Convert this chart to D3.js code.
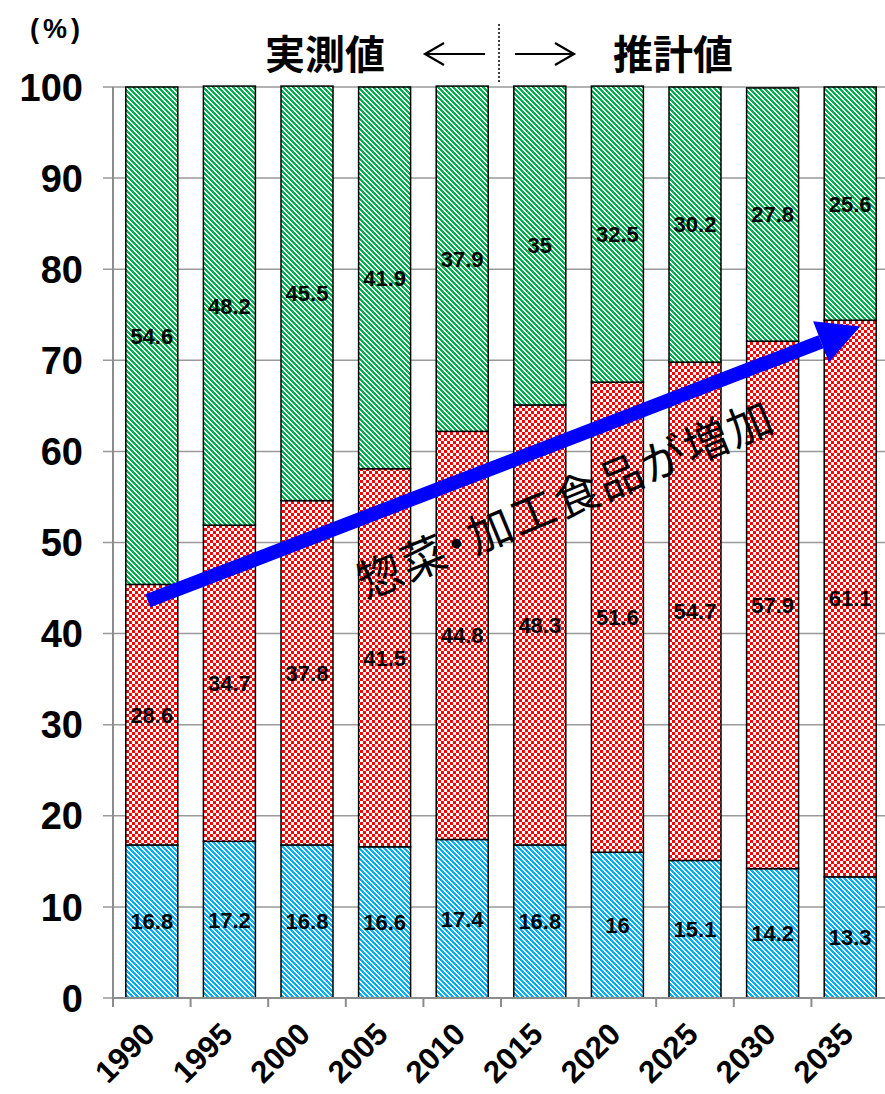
<!DOCTYPE html>
<html>
<head>
<meta charset="utf-8">
<script src="https://cdn.jsdelivr.net/npm/d3@7"></script>
<style>
  body { margin: 0; background: #fff; }
  text { font-family: "Liberation Sans", Arial, sans-serif; }
  .jp { font-family: "Noto Sans CJK JP", sans-serif; }
</style>
</head>
<body>
<svg id="chart" width="885" height="1094"></svg>
<script>
// data
const years = ["1990", "1995", "2000", "2005", "2010", "2015", "2020", "2025", "2030", "2035"];
const eatOut    = [16.8, 17.2, 16.8, 16.6, 17.4, 16.8, 16, 15.1, 14.2, 13.3];   // blue, bottom
const processed = [28.6, 34.7, 37.8, 41.5, 44.8, 48.3, 51.6, 54.7, 57.9, 61.1]; // red, middle
const fresh     = [54.6, 48.2, 45.5, 41.9, 37.9, 35, 32.5, 30.2, 27.8, 25.6];   // green, top
const yTicks = [0, 10, 20, 30, 40, 50, 60, 70, 80, 90, 100];
const keys = ["eatOut", "processed", "fresh"];

const svg = d3.select("#chart");
const width = +svg.attr("width");

const plotLeft = 113, plotRight = 889, plotTop = 87, plotBottom = 998;

const x = d3.scaleBand()
    .domain(years)
    .range([plotLeft, plotRight])
    .paddingInner(0.33)
    .paddingOuter(0.165);

const y = d3.scaleLinear().domain([0, 100]).range([plotBottom, plotTop]);

// patterns
const defs = svg.append("defs");

function diagPattern(id, color) {
    const p = defs.append("pattern")
        .attr("id", id)
        .attr("patternUnits", "userSpaceOnUse")
        .attr("width", 5).attr("height", 5);
    p.append("rect").attr("width", 5).attr("height", 5).attr("fill", "#fff");
    for (let r = 0; r < 5; r++) {
        for (let k = 0; k < 3; k++) {
            p.append("rect")
                .attr("x", (r + k) % 5).attr("y", r)
                .attr("width", 1).attr("height", 1)
                .attr("fill", color)
                .attr("shape-rendering", "crispEdges");
        }
    }
}
diagPattern("pGreen", "#00b050");
diagPattern("pBlue", "#00b0f0");

const chk = defs.append("pattern")
    .attr("id", "pRed")
    .attr("patternUnits", "userSpaceOnUse")
    .attr("width", 6).attr("height", 6);
chk.append("rect").attr("width", 6).attr("height", 6).attr("fill", "#fff");
chk.append("rect").attr("width", 3).attr("height", 3).attr("fill", "#ff0000").attr("shape-rendering", "crispEdges");
chk.append("rect").attr("x", 3).attr("y", 3).attr("width", 3).attr("height", 3).attr("fill", "#ff0000").attr("shape-rendering", "crispEdges");

const fills = { eatOut: "url(#pBlue)", processed: "url(#pRed)", fresh: "url(#pGreen)" };

// gridlines
svg.append("g")
    .selectAll("line")
    .data(yTicks)
    .enter().append("line")
    .attr("x1", plotLeft - 10)
    .attr("x2", width)
    .attr("y1", d => y(d))
    .attr("y2", d => y(d))
    .attr("stroke", "#999")
    .attr("stroke-width", 1.5);

// y labels
svg.append("g")
    .selectAll("text")
    .data(yTicks)
    .enter().append("text")
    .attr("x", 83)
    .attr("y", d => y(d))
    .attr("dy", "0.36em")
    .attr("text-anchor", "end")
    .style("font-size", "38px")
    .style("font-weight", "bold")
    .text(d => d);

// axes lines
svg.append("line")
    .attr("x1", plotLeft).attr("x2", plotLeft)
    .attr("y1", plotTop).attr("y2", plotBottom + 9)
    .attr("stroke", "#8c8c8c").attr("stroke-width", 2);

svg.append("g")
    .selectAll("line")
    .data(d3.range(1, years.length))
    .enter().append("line")
    .attr("x1", i => plotLeft + i * x.step())
    .attr("x2", i => plotLeft + i * x.step())
    .attr("y1", plotBottom).attr("y2", plotBottom + 9)
    .attr("stroke", "#8c8c8c").attr("stroke-width", 2);

// stacked bars
const table = years.map((yr, i) => ({ year: yr, eatOut: eatOut[i], processed: processed[i], fresh: fresh[i] }));
const series = d3.stack().keys(keys)(table);

const groups = svg.append("g")
    .selectAll("g")
    .data(series)
    .enter().append("g")
    .attr("fill", d => fills[d.key]);

groups.selectAll("rect")
    .data(d => d)
    .enter().append("rect")
    .attr("x", d => x(d.data.year))
    .attr("width", x.bandwidth())
    .attr("y", d => y(d[1]))
    .attr("height", d => y(d[0]) - y(d[1]))
    .attr("stroke", "#000")
    .attr("stroke-width", 1.5);

// segment values
groups.selectAll("text")
    .data(d => d.map(v => ({ v, key: d.key })))
    .enter().append("text")
    .attr("x", d => x(d.v.data.year) + x.bandwidth() / 2)
    .attr("y", d => y((d.v[0] + d.v[1]) / 2))
    .attr("dy", "0.36em")
    .attr("text-anchor", "middle")
    .attr("fill", "#000")
    .style("font-size", "22px")
    .style("font-weight", "bold")
    .text(d => d.v.data[d.key]);

// bottom axis line
svg.append("line")
    .attr("x1", plotLeft).attr("x2", width)
    .attr("y1", plotBottom).attr("y2", plotBottom)
    .attr("stroke", "#8c8c8c").attr("stroke-width", 2);

// x labels
svg.append("g")
    .selectAll("text")
    .data(years)
    .enter().append("text")
    .attr("transform", d => `translate(${x(d) + x.bandwidth() / 2 + 5},${plotBottom + 38}) rotate(-45)`)
    .attr("text-anchor", "end")
    .style("font-size", "31px")
    .style("font-weight", "bold")
    .text(d => d);

// unit
svg.append("text")
    .attr("x", 57).attr("y", 38)
    .attr("text-anchor", "middle")
    .style("font-size", "27px")
    .style("font-weight", "bold")
    .style("letter-spacing", "4px")
    .text("(%)");

// header: actual <- | -> estimate
svg.append("text").attr("class", "jp")
    .attr("x", 325).attr("y", 69)
    .attr("text-anchor", "middle")
    .style("font-size", "40px").style("font-weight", "bold")
    .text("実測値");

svg.append("text").attr("class", "jp")
    .attr("x", 673).attr("y", 69)
    .attr("text-anchor", "middle")
    .style("font-size", "40px").style("font-weight", "bold")
    .text("推計値");

svg.append("line")
    .attr("x1", 499).attr("x2", 499)
    .attr("y1", 24).attr("y2", 84)
    .attr("stroke", "#000").attr("stroke-width", 1.5)
    .attr("stroke-dasharray", "2,2");

const headArrows = [[485, 425], [515, 574]];
headArrows.forEach(([ax0, ax1]) => {
    const dir = Math.sign(ax1 - ax0);
    svg.append("path")
        .attr("d", `M${ax0},54 L${ax1},54 M${ax1 - dir * 19},43 L${ax1},54 L${ax1 - dir * 19},65`)
        .attr("fill", "none")
        .attr("stroke", "#000")
        .attr("stroke-width", 2.2);
});

// trend arrow
const tx0 = x("1990") + x.bandwidth() / 2 - 4, ty0 = y(43.6);
const tx1 = x("2035") + x.bandwidth() / 2 + 10, ty1 = y(73.7);
const ang = Math.atan2(ty1 - ty0, tx1 - tx0);
const headLen = 42, headHalf = 22;
const bx = tx1 - headLen * Math.cos(ang), by = ty1 - headLen * Math.sin(ang);
svg.append("line")
    .attr("x1", tx0).attr("y1", ty0)
    .attr("x2", bx).attr("y2", by)
    .attr("stroke", "#0000ff")
    .attr("stroke-width", 14);
svg.append("path")
    .attr("d", `M${tx1},${ty1} L${bx - headHalf * Math.sin(ang)},${by + headHalf * Math.cos(ang)} L${bx + headHalf * Math.sin(ang)},${by - headHalf * Math.cos(ang)} Z`)
    .attr("fill", "#0000ff");

// annotation
svg.append("text").attr("class", "jp")
    .attr("transform", "translate(566,500) rotate(-22.4)")
    .attr("text-anchor", "middle")
    .attr("dy", "0.35em")
    .style("font-size", "45px")
    .style("font-feature-settings", "'palt'")
    .style("letter-spacing", "2px")
    .text("惣菜・加工食品が増加");
</script>
</body>
</html>
